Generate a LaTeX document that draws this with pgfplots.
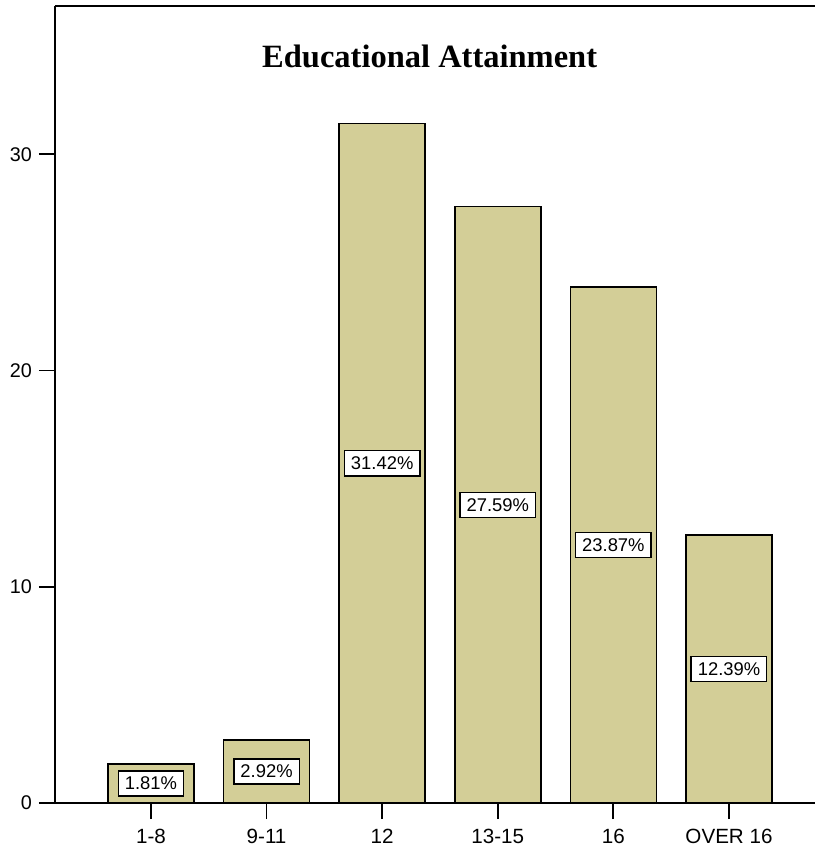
\documentclass[border=0pt]{standalone}
\usepackage{pgfplots}
\pgfplotsset{compat=1.18}
\usepackage{fontspec}
\setmainfont{Liberation Sans}
\newfontfamily\titlefont{Liberation Serif}
\definecolor{barfill}{RGB}{211,206,151}
\begin{document}
\begin{tikzpicture}
\useasboundingbox (-27.5bp,-25bp) rectangle (380bp,401.5bp);
\begin{axis}[
 scale only axis, width=380bp, height=398.5bp,
 xmin=-0.83, xmax=5.744, ymin=0, ymax=36.86,
 axis x line=bottom, axis y line=left,
 axis line style={-, line width=1bp, black},
 xtick={0,...,5}, xticklabels={1-8,9-11,12,13-15,16,OVER 16},
 ytick={0,10,20,30},
 tick align=outside, major tick length=8bp,
 tick style={black, line width=0.9bp},
 yticklabel style={font=\fontsize{9.9bp}{11bp}\selectfont},
 xticklabel style={font=\fontsize{10.3bp}{11bp}\selectfont, yshift=-1.5bp},
 /pgf/number format/assume math mode=true,
 clip=false,
]
\addplot[ybar, bar width=43bp, fill=barfill, draw=black, line width=0.75bp]
  coordinates {(0,1.81)(1,2.92)(2,31.42)(3,27.59)(4,23.87)(5,12.39)};
\addplot[draw=none, mark=none, point meta=explicit symbolic,
  nodes near coords={\pgfplotspointmeta\%},
  nodes near coords style={anchor=center, fill=white, draw=black, line width=0.7bp,
    font=\fontsize{9.2bp}{10bp}\selectfont, inner xsep=3.3bp, inner ysep=3bp}]
  table[meta=lab] {
x y lab
0 0.905 1.81
1 1.46 2.92
2 15.71 31.42
3 13.795 27.59
4 11.935 23.87
5 6.195 12.39
};
\draw[line width=1bp] (rel axis cs:0,1) -- (rel axis cs:1,1);
\node[font=\titlefont\bfseries\fontsize{16.25bp}{18bp}\selectfont, anchor=base, yshift=-31bp]
  at (rel axis cs:0.493,1) {Educational Attainment};
\end{axis}
\end{tikzpicture}
\end{document}
